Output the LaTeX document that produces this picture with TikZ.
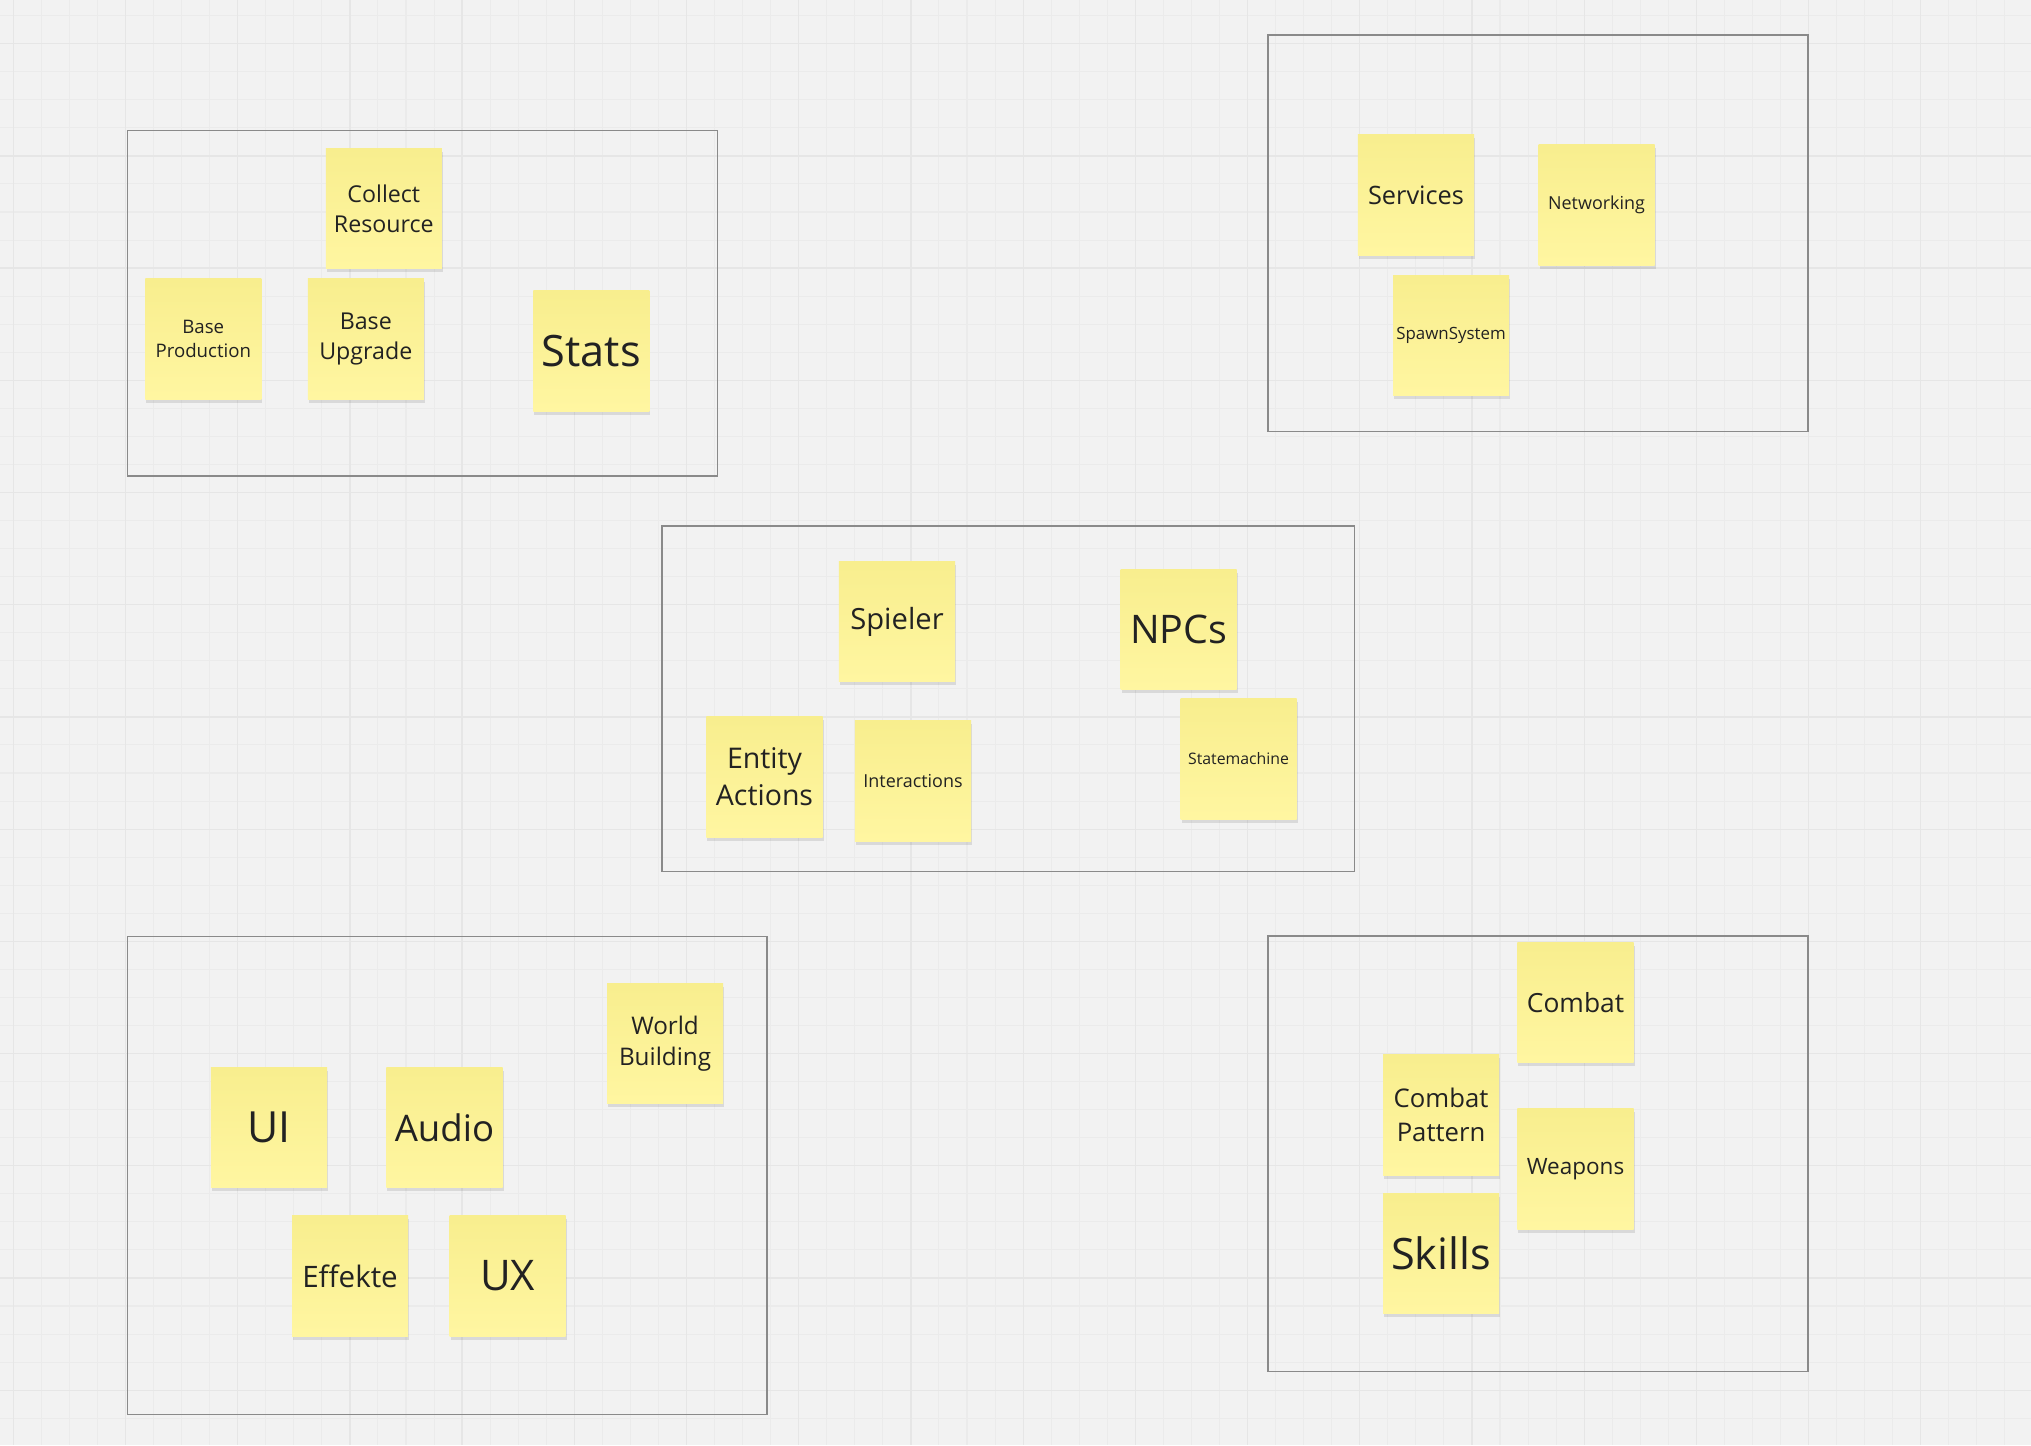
\documentclass[tikz,border=0pt]{standalone}
\usepackage{fontspec}
\setmainfont{Open Sans}
\usepackage{tikz}
\usetikzlibrary{positioning}
\usetikzlibrary{shadows}
\definecolor{boardbg}{HTML}{F2F2F2}
\definecolor{gridlight}{HTML}{EBEBEB}
\definecolor{griddark}{HTML}{E6E6E6}
\definecolor{framegray}{HTML}{8A8A8A}
\definecolor{notetop}{HTML}{F8EE8E}
\definecolor{notebot}{HTML}{FFF6A1}
\definecolor{ink}{HTML}{222222}
\newcommand{\notesize}[1]{\fontsize{#1pt}{\the\dimexpr #1pt*13/10\relax}\selectfont}

\begin{document}
\begin{tikzpicture}[x=0.01cm, y=-0.01cm,
    sticky/.style={rectangle, minimum width=1.16cm, minimum height=1.2cm, inner sep=0pt,
      top color=notetop, bottom color=notebot, text=ink, align=center,
      drop shadow={shadow xshift=0.1mm, shadow yshift=-0.35mm, opacity=0.1, fill=black}},
    txt/.style={font=\notesize{#1}},
    groupframe/.style={draw=framegray, line width=0.4pt},
    gridminor/.style={draw=gridlight, line width=0.3pt},
    gridmajor/.style={draw=griddark, line width=0.35pt}]
    % board
    \fill[boardbg] (0,0) rectangle (2031,1445);
    \useasboundingbox (0,0) rectangle (2031,1445);
    \foreach \k in {0,...,72} \draw[gridminor] ({13.3+28.05*\k},0) -- ({13.3+28.05*\k},1445);
    \foreach \k in {-1,...,50} \draw[gridminor] (0,{43.7+28.05*\k}) -- (2031,{43.7+28.05*\k});
    \foreach \k in {0,...,18} \draw[gridmajor] ({13.3+112.2*\k},0) -- ({13.3+112.2*\k},1445);
    \foreach \k in {0,...,12} \draw[gridmajor] (0,{43.7+112.2*\k}) -- (2031,{43.7+112.2*\k});

    % group frames
    \draw[groupframe] (127.3,130.7) rectangle (717.7,476);
    \draw[groupframe] (1268,35) rectangle (1808,431.7);
    \draw[groupframe] (662,526) rectangle (1354.5,871.7);
    \draw[groupframe] (127.3,936.5) rectangle (767,1414.5);
    \draw[groupframe] (1268,936) rectangle (1808,1371.7);

    % base
    \node[sticky, txt=5.3] (bprod) at (203.3,339) {Base\\Production};
    \node[sticky, txt=6.6] (bup) [right=0.45cm of bprod] {Base\\Upgrade};
    \node[sticky, txt=6.6] (collect) [above=0.09cm of bup, xshift=0.18cm] {Collect\\Resource};
    \node[sticky, txt=12.3] (stats) [right=1.08cm of bup, yshift=-0.12cm] {Stats};

    % backend
    \node[sticky, txt=7.2] (services) at (1416,195) {Services};
    \node[sticky, txt=5.1] (netw) [right=0.63cm of services, yshift=-0.1cm] {Networking};
    \node[sticky, txt=4.8] (spawn) [below=0.19cm of services, xshift=0.35cm] {SpawnSystem};

    % entities
    \node[sticky, txt=8.1] (entity) at (764.5,777) {Entity\\Actions};
    \node[sticky, txt=5.1] (interact) [right=0.31cm of entity, yshift=-0.04cm] {Interactions};
    \node[sticky, txt=8.3] (spieler) [above=0.38cm of interact, xshift=-0.16cm] {Spieler};
    \node[sticky, txt=11.2] (npcs) [right=1.64cm of spieler, yshift=-0.08cm] {NPCs};
    \node[sticky, txt=4.5] (statem) [below=0.08cm of npcs, xshift=0.6cm] {Statemachine};

    % presentation
    \node[sticky, txt=12.2] (ui) at (269,1127.5) {UI};
    \node[sticky, txt=10.4] (audio) [right=0.58cm of ui] {Audio};
    \node[sticky, txt=8.4] (effekte) [below=0.27cm of ui, xshift=0.81cm] {Effekte};
    \node[sticky, txt=12] (ux) [right=0.4cm of effekte] {UX};
    \node[sticky, txt=6.9] (world) [right=1.03cm of audio, yshift=0.84cm] {World\\Building};

    % fighting
    \node[sticky, txt=7.5] (combat) at (1575.5,1002.5) {Combat};
    \node[sticky, txt=6.4] (weapons) [below=0.45cm of combat] {Weapons};
    \node[sticky, txt=7.3] (cpattern) [left=0.17cm of weapons, yshift=0.54cm] {Combat\\Pattern};
    \node[sticky, txt=12.3] (skills) [below=0.17cm of cpattern] {Skills};
\end{tikzpicture}
\end{document}
